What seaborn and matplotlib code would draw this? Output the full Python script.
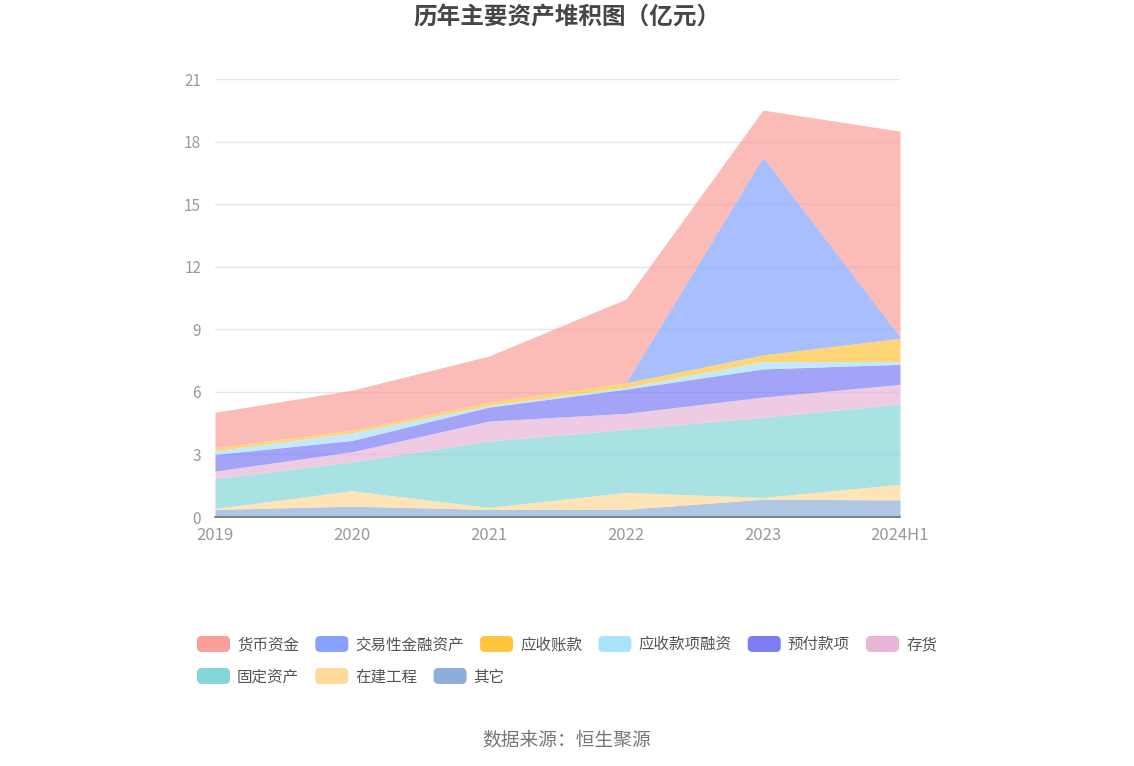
import numpy as np
import matplotlib.pyplot as plt
import seaborn as sns
from matplotlib.patches import FancyBboxPatch
from matplotlib.legend_handler import HandlerPatch

# data (亿元)
years = ["2019", "2020", "2021", "2022", "2023", "2024H1"]
qita = [0.36, 0.52, 0.36, 0.37, 0.85, 0.82]
zaijian = [0.05, 0.74, 0.10, 0.81, 0.09, 0.75]
guding = [1.43, 1.38, 3.18, 3.02, 3.84, 3.85]
cunhuo = [0.36, 0.49, 0.96, 0.77, 0.97, 0.94]
yufu = [0.80, 0.54, 0.67, 1.16, 1.35, 0.96]
yingshou_rz = [0.18, 0.36, 0.08, 0.09, 0.35, 0.13]
yingshou_zk = [0.15, 0.13, 0.16, 0.22, 0.32, 1.12]
jiaoyi = [0.00, 0.00, 0.00, 0.00, 9.49, 0.07]
huobi = [1.69, 1.92, 2.21, 4.01, 2.25, 9.86]

names = ["其它", "在建工程", "固定资产", "存货", "预付款项", "应收款项融资", "应收账款", "交易性金融资产", "货币资金"]
series = [qita, zaijian, guding, cunhuo, yufu, yingshou_rz, yingshou_zk, jiaoyi, huobi]
colors = ["#8daedb", "#ffd99a", "#85d6d7", "#e8b5d6", "#7c7cf5", "#a8e2fb", "#ffc53d", "#85a3fc", "#fa9f97"]

sns.set_theme(style="white")
plt.rcParams["font.family"] = ["Noto Sans CJK SC", "DejaVu Sans"]

fig = plt.figure(figsize=(11.34, 7.66), dpi=100)
ax = fig.add_axes([215 / 1134, 1 - 517 / 766, 685 / 1134, 438 / 766])

x = np.arange(len(years))
ax.stackplot(x, *series, colors=colors, alpha=0.7, linewidth=0)

ax.set_xlim(0, len(years) - 1)
ax.set_ylim(0, 21)
ax.set_yticks(range(0, 22, 3))
ax.set_xticks(x)
ax.set_xticklabels(years)
ax.grid(axis="y", color="#e0e6f1", linewidth=1)
ax.set_axisbelow(True)
for s in ["left", "right", "top"]:
    ax.spines[s].set_visible(False)
ax.spines["bottom"].set_color("#6e7079")
ax.spines["bottom"].set_linewidth(1.2)
ax.spines["bottom"].set_zorder(5)
ax.tick_params(axis="x", colors="#6e7079", length=6, width=1, direction="out",
               labelcolor="#999999", labelsize=12, pad=1)
ax.tick_params(axis="y", length=0, labelcolor="#999999", labelsize=11, pad=10)

fig.text(0.5, 1 - 17 / 766, "历年主要资产堆积图（亿元）", ha="center", va="center",
         fontsize=17, fontweight="bold", color="#464646")
fig.text(0.5, 1 - 740 / 766, "数据来源：恒生聚源", ha="center", va="center",
         fontsize=13.5, color="#777777")


class RoundHandler(HandlerPatch):
    def create_artists(self, legend, orig_handle, xdescent, ydescent, width, height, fontsize, trans):
        p = FancyBboxPatch((-xdescent, -ydescent), width, height,
                           boxstyle="round,pad=0,rounding_size=%f" % (height * 0.3),
                           facecolor=orig_handle.get_facecolor(), edgecolor="none",
                           transform=trans)
        return [p]


handles = {n: plt.Rectangle((0, 0), 1, 1, facecolor=c) for n, c in zip(names, colors)}
row1 = ["货币资金", "交易性金融资产", "应收账款", "应收款项融资", "预付款项", "存货"]
row2 = ["固定资产", "在建工程", "其它"]

for row, ytop in [(row1, 636), (row2, 668)]:
    leg = fig.legend([handles[n] for n in row], row, loc="upper left",
                     bbox_to_anchor=(197 / 1134, 1 - ytop / 766), ncol=len(row),
                     frameon=False, fontsize=11.2, handlelength=2.12, handleheight=1.2,
                     handletextpad=0.45, columnspacing=1.05, borderpad=0, borderaxespad=0,
                     handler_map={plt.Rectangle: RoundHandler()})
    for t in leg.get_texts():
        t.set_color("#555555")

fig.savefig("out.png", dpi=100)
